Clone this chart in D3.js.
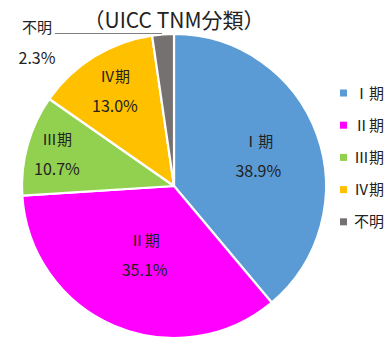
<!DOCTYPE html>
<html>
<head>
<meta charset="utf-8">
<script src="https://cdn.jsdelivr.net/npm/d3@7"></script>
<style>
  html, body { margin: 0; padding: 0; background: #fff; }
  svg { display: block; font-family: "Noto Sans CJK JP", "Noto Sans", sans-serif; }
</style>
</head>
<body>
<svg id="chart" width="392" height="340"></svg>
<script>
// Stage distribution (UICC TNM classification)
const categories = ["Ⅰ期", "Ⅱ期", "Ⅲ期", "Ⅳ期", "不明"];
const values = [38.9, 35.1, 10.7, 13.0, 2.3];
const colors = ["#5B9BD5", "#FF00FF", "#92D050", "#FFC000", "#767171"];
const title = "（UICC TNM分類）";

// Label distance from the centre, as a fraction of the radius (per slice)
const labelRadius = [0.59, 0.49, 0.80, 0.74, 1.0];

const svg = d3.select("#chart");
const cx = 174, cy = 186, r = 152;

const data = categories.map((c, i) => ({ name: c, value: values[i], color: colors[i], lr: labelRadius[i] }));

const pie = d3.pie().value(d => d.value).sort(null);
const arc = d3.arc().innerRadius(0).outerRadius(r);

const g = svg.append("g").attr("transform", `translate(${cx},${cy})`);
const arcs = pie(data);

g.selectAll("path.slice")
  .data(arcs)
  .join("path")
  .attr("class", "slice")
  .attr("d", arc)
  .attr("fill", d => d.data.color)
  .attr("stroke", "#fff")
  .attr("stroke-width", 2.2)
  .attr("stroke-linejoin", "round");

// In-slice labels (name + percent), except the small "unknown" slice
const inner = arcs.filter(d => d.data.name !== "不明");
const lbl = g.selectAll("g.lbl")
  .data(inner)
  .join("g")
  .attr("class", "lbl")
  .attr("transform", d => {
    const lr = d.data.lr * r;
    const [x, y] = d3.arc().innerRadius(lr).outerRadius(lr).centroid(d);
    return `translate(${x},${y})`;
  });
lbl.append("text")
  .attr("text-anchor", "middle")
  .attr("y", -8)
  .attr("font-size", 15)
  .attr("fill", "#222")
  .text(d => d.data.name);
lbl.append("text")
  .attr("text-anchor", "middle")
  .attr("y", 22)
  .attr("font-size", 16)
  .attr("fill", "#222")
  .text(d => d.data.value.toFixed(1) + "%");

// Outside label with leader line for the small slice
const small = arcs.find(d => d.data.name === "不明");
const edge = d3.arc().innerRadius(r).outerRadius(r).centroid(small);
svg.append("line")
  .attr("x1", 55).attr("y1", 33.5)
  .attr("x2", cx + edge[0] - 1).attr("y2", 33.5)
  .attr("stroke", "#7f7f7f").attr("stroke-width", 1);
svg.append("text")
  .attr("x", 37).attr("y", 33)
  .attr("font-size", 15).attr("fill", "#222")
  .attr("text-anchor", "middle")
  .text(small.data.name);
svg.append("text")
  .attr("x", 37).attr("y", 64)
  .attr("font-size", 16).attr("fill", "#222")
  .attr("text-anchor", "middle")
  .text(small.data.value.toFixed(1) + "%");

// Title
svg.append("text")
  .attr("x", 174).attr("y", 28)
  .attr("text-anchor", "middle")
  .attr("font-size", 21)
  .attr("fill", "#222")
  .text(title);

// Legend
const legend = svg.append("g").attr("transform", "translate(340,89.5)");
const item = legend.selectAll("g")
  .data(data)
  .join("g")
  .attr("transform", (d, i) => `translate(0,${i * 32.2})`);
item.append("rect")
  .attr("width", 7).attr("height", 7)
  .attr("fill", d => d.color);
item.append("text")
  .attr("x", 14).attr("y", 9)
  .attr("font-size", 15)
  .attr("fill", "#222")
  .text(d => d.name);
</script>
</body>
</html>
